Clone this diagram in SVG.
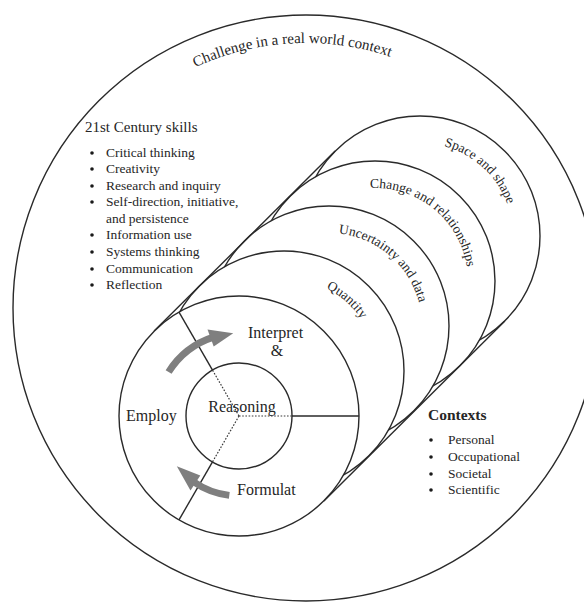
<svg xmlns="http://www.w3.org/2000/svg" width="584" height="606" viewBox="0 0 584 606">
  <style>
    text { font-family: "Liberation Serif", "Times New Roman", serif; fill: #262626; }
    .ring { fill: #ffffff; stroke: #2a2a2a; stroke-width: 1.4; }
    .edge { fill: none; stroke: #2a2a2a; stroke-width: 1.4; }
    .dot { fill: none; stroke: #3a3a3a; stroke-width: 1.2; stroke-dasharray: 1.6 1.6; }
    .lbl { font-size: 13.5px; }
    .item { font-size: 13.5px; }
    .big { font-size: 16px; }
    .arrow { fill: none; stroke: #7f7f7f; stroke-width: 7; }
    .head { fill: #7f7f7f; }
    .bul { fill: #1a1a1a; }
  </style>
  <defs>
    <path id="p-outer" d="M 103 137.7 A 265 265 0 0 1 509 137.7"/>
    <path id="p-space" d="M 444.1 146.2 A 93 93 0 0 1 513 236"/>
    <path id="p-change" d="M 370.1 188.1 A 93 93 0 0 1 468 281"/>
    <path id="p-unc" d="M 338.7 233.5 A 93 93 0 0 1 422 326"/>
    <path id="p-qty" d="M 326.2 288.1 A 93 93 0 0 1 377 371"/>
  </defs>

  <rect width="584" height="606" fill="#ffffff"/>

  <g id="context-world">
    <circle class="ring" cx="306" cy="308" r="293"/>
    <text style="font-size:15px" text-anchor="middle"><textPath href="#p-outer" startOffset="217">Challenge in a real world context</textPath></text>
  </g>

  <g id="skills">
    <text x="85" y="132" style="font-size:15px">21st Century skills</text>
    <circle class="bul" cx="92" cy="153" r="1.8"/>
    <circle class="bul" cx="92" cy="169" r="1.8"/>
    <circle class="bul" cx="92" cy="186" r="1.8"/>
    <circle class="bul" cx="92" cy="202" r="1.8"/>
    <circle class="bul" cx="92" cy="235" r="1.8"/>
    <circle class="bul" cx="92" cy="252" r="1.8"/>
    <circle class="bul" cx="92" cy="269" r="1.8"/>
    <circle class="bul" cx="92" cy="285" r="1.8"/>
    <text class="item" x="106" y="157">Critical thinking</text>
    <text class="item" x="106" y="173">Creativity</text>
    <text class="item" x="106" y="190">Research and inquiry</text>
    <text class="item" x="106" y="206">Self-direction, initiative,</text>
    <text class="item" x="106" y="223">and persistence</text>
    <text class="item" x="106" y="239">Information use</text>
    <text class="item" x="106" y="256">Systems thinking</text>
    <text class="item" x="106" y="273">Communication</text>
    <text class="item" x="106" y="289">Reflection</text>
  </g>

  <g id="contexts">
    <text x="428" y="420" style="font-size:15.5px;font-weight:bold">Contexts</text>
    <circle class="bul" cx="431" cy="440" r="1.8"/>
    <circle class="bul" cx="431" cy="457" r="1.8"/>
    <circle class="bul" cx="431" cy="474" r="1.8"/>
    <circle class="bul" cx="431" cy="490" r="1.8"/>
    <text class="item" x="448" y="444">Personal</text>
    <text class="item" x="448" y="461">Occupational</text>
    <text class="item" x="448" y="478">Societal</text>
    <text class="item" x="448" y="494">Scientific</text>
  </g>

  <g id="space-and-shape">
    <circle class="ring" cx="420" cy="236" r="120"/>
    <text class="lbl"><textPath href="#p-space">Space and shape</textPath></text>
  </g>
  <g id="change-and-relationships">
    <circle class="ring" cx="375" cy="281" r="120"/>
    <text class="lbl"><textPath href="#p-change">Change and relationships</textPath></text>
  </g>
  <g id="uncertainty-and-data">
    <circle class="ring" cx="329" cy="326" r="120"/>
    <text class="lbl"><textPath href="#p-unc">Uncertainty and data</textPath></text>
  </g>
  <g id="quantity">
    <circle class="ring" cx="284" cy="371" r="120"/>
    <text class="lbl"><textPath href="#p-qty">Quantity</textPath></text>
  </g>

  <g id="cylinder-sides">
    <line class="edge" x1="154.1" y1="331.1" x2="335.1" y2="151.1"/>
    <line class="edge" x1="323.9" y1="500.9" x2="504.9" y2="320.9"/>
  </g>

  <g id="process-cycle">
    <circle class="ring" cx="239" cy="416" r="120"/>
    <line class="edge" x1="292" y1="416" x2="359" y2="416"/>
    <line class="edge" x1="212.5" y1="370.1" x2="179" y2="312.1"/>
    <line class="edge" x1="212.5" y1="461.9" x2="179" y2="519.9"/>
    <text class="big" x="248" y="338">Interpret</text>
    <text class="big" x="277" y="356" text-anchor="middle">&amp;</text>
    <text class="big" x="126" y="421">Employ</text>
    <text class="big" x="237" y="495">Formulat</text>
  </g>

  <g id="reasoning">
    <circle fill="none" stroke="#2a2a2a" stroke-width="1.4" cx="239" cy="416" r="53"/>
    <line class="dot" x1="239" y1="416" x2="292" y2="416"/>
    <line class="dot" x1="239" y1="416" x2="212.5" y2="370.1"/>
    <line class="dot" x1="239" y1="416" x2="212.5" y2="461.9"/>
    <text class="big" x="242" y="412" text-anchor="middle">Reasoning</text>
  </g>

  <g id="connectors">
    <path class="arrow" d="M 168.6 372 A 83 83 0 0 1 213.4 337.1"/>
    <polygon class="head" points="213.7,346.5 207.5,329.5 233.2,333.2"/>
    <path class="arrow" d="M 229.3 495.4 A 80 80 0 0 1 193.1 481.5"/>
    <polygon class="head" points="200.3,475.5 190.5,490.6 176.8,466.3"/>
  </g>
</svg>
